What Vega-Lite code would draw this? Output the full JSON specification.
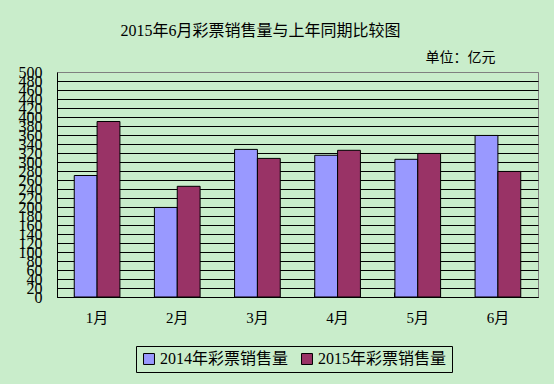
{
  "$schema": "https://vega.github.io/schema/vega-lite/v6.json",
  "autosize": "none",
  "width": 481,
  "height": 225,
  "padding": {"left": 57, "top": 72, "right": 16, "bottom": 87},
  "background": "#C9EDCB",
  "title": {
    "text": "2015年6月彩票销售量与上年同期比较图",
    "font": "Liberation Serif, Noto Sans CJK SC",
    "fontSize": 16,
    "fontWeight": "normal",
    "color": "#000000",
    "anchor": "middle",
    "frame": "group",
    "dx": -37,
    "offset": 11
  },
  "data": {
    "values": [
      {"month": "1月", "series": "2014年彩票销售量", "value": 270},
      {"month": "1月", "series": "2015年彩票销售量", "value": 390},
      {"month": "2月", "series": "2014年彩票销售量", "value": 199},
      {"month": "2月", "series": "2015年彩票销售量", "value": 246},
      {"month": "3月", "series": "2014年彩票销售量", "value": 328},
      {"month": "3月", "series": "2015年彩票销售量", "value": 308},
      {"month": "4月", "series": "2014年彩票销售量", "value": 315},
      {"month": "4月", "series": "2015年彩票销售量", "value": 326},
      {"month": "5月", "series": "2014年彩票销售量", "value": 306},
      {"month": "5月", "series": "2015年彩票销售量", "value": 319},
      {"month": "6月", "series": "2014年彩票销售量", "value": 359},
      {"month": "6月", "series": "2015年彩票销售量", "value": 279}
    ]
  },
  "mark": {"type": "bar", "stroke": "#000000", "strokeWidth": 1},
  "encoding": {
    "x": {
      "field": "month",
      "type": "nominal",
      "sort": ["1月", "2月", "3月", "4月", "5月", "6月"],
      "scale": {"paddingInner": 0.43, "paddingOuter": 0.215},
      "axis": {
        "title": null,
        "labelAngle": 0,
        "labelFont": "Liberation Serif, Noto Sans CJK SC",
        "labelFontSize": 15,
        "labelColor": "#000000",
        "labelPadding": 18,
        "ticks": true,
        "bandPosition": 0,
        "tickSize": -5,
        "tickColor": "#000000",
        "tickExtra": true,
        "domainColor": "#000000",
        "domainWidth": 1
      }
    },
    "xOffset": {
      "field": "series",
      "type": "nominal",
      "scale": {"paddingInner": 0, "paddingOuter": 0}
    },
    "y": {
      "field": "value",
      "type": "quantitative",
      "scale": {"domain": [0, 500], "nice": false},
      "axis": {
        "title": "单位：亿元",
        "titleAngle": 0,
        "titleX": 368,
        "titleY": -11,
        "titleAlign": "left",
        "titleBaseline": "alphabetic",
        "titleFont": "Liberation Serif, Noto Sans CJK SC",
        "titleFontSize": 14,
        "titleFontWeight": "normal",
        "titleColor": "#000000",
        "values": [0, 20, 40, 60, 80, 100, 120, 140, 160, 180, 200, 220, 240, 260, 280, 300, 320, 340, 360, 380, 400, 420, 440, 460, 480, 500],
        "labelFont": "Liberation Serif",
        "labelFontSize": 16,
        "labelColor": "#000000",
        "labelPadding": 15,
        "labelOverlap": false,
        "labelFlush": false,
        "ticks": false,
        "domainColor": "#000000",
        "grid": true,
        "gridColor": {"condition": {"test": "datum.value == 500", "value": "#808080"}, "value": "#000000"},
        "gridWidth": 1
      }
    },
    "color": {
      "field": "series",
      "type": "nominal",
      "scale": {"range": ["#9999FF", "#993366"]},
      "legend": {
        "title": null,
        "orient": "none",
        "legendX": 79,
        "legendY": 274,
        "direction": "horizontal",
        "strokeColor": "#000000",
        "fillColor": "#C9EDCB",
        "padding": 5,
        "symbolType": "square",
        "symbolSize": 120,
        "symbolStrokeColor": "#000000",
        "symbolStrokeWidth": 1,
        "symbolOpacity": 1,
        "labelFont": "Liberation Serif, Noto Sans CJK SC",
        "labelFontSize": 16,
        "labelColor": "#000000",
        "labelOffset": 3,
        "columnPadding": 10
      }
    }
  },
  "config": {
    "view": {"stroke": "#808080", "strokeWidth": 1}
  }
}
